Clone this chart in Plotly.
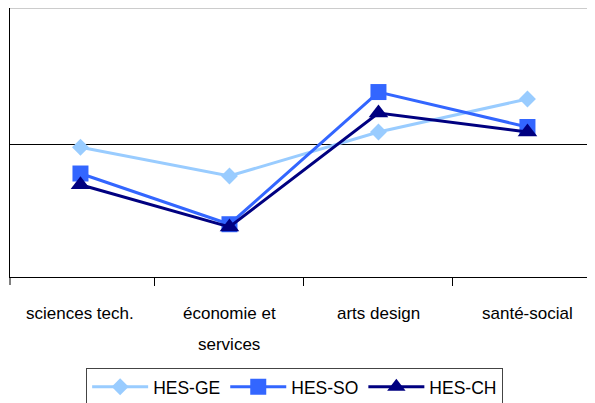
import plotly.graph_objects as go

categories = ["sciences tech.", "économie et\nservices", "arts design", "santé-social"]
hes_ge = [-0.024, -0.235, 0.088, 0.331]
hes_so = [-0.217, -0.59, 0.382, 0.125]
hes_ch = [-0.30, -0.61, 0.228, 0.088]

FONT = "Liberation Sans, Arial, sans-serif"

series = [
    ("HES-GE", hes_ge, "#99CCFF", "diamond", 13),
    ("HES-SO", hes_so, "#3366FF", "square", 16),
    ("HES-CH", hes_ch, "#000080", "triangle-up", 17),
]

x_idx = list(range(len(categories)))
boundaries = [i - 0.5 for i in range(len(categories) + 1)]

fig = go.Figure()
for name, vals, color, sym, size in series:
    fig.add_trace(go.Scatter(
        x=x_idx, y=vals, name=name, mode="lines+markers",
        line=dict(color=color, width=3),
        marker=dict(symbol=sym, size=size, color=color),
    ))

# category labels (each line placed separately to reproduce the wide line spacing)
for i, cat in enumerate(categories):
    for j, line in enumerate(cat.split("\n")):
        fig.add_annotation(
            x=i, xref="x", y=0, yref="paper", text=line, showarrow=False,
            yanchor="middle", yshift=-36 - 31 * j,
            font=dict(family=FONT, size=17, color="#000000"),
        )

# light top border of the plot area
fig.add_shape(type="line", xref="paper", yref="paper", x0=0, x1=1, y0=1, y1=1,
              line=dict(color="#999999", width=1))
# left end tick below the category axis
fig.add_shape(type="line", xref="paper", yref="paper", x0=0, x1=0, y0=0, y1=-8 / 269,
              line=dict(color="#000000", width=1))

fig.update_layout(
    width=595, height=403,
    margin=dict(l=2, r=0, t=0, b=134),
    paper_bgcolor="white", plot_bgcolor="white",
    font=dict(family=FONT, size=17, color="#000000"),
    showlegend=True,
    legend=dict(
        orientation="h", x=0.48, xanchor="center", y=-0.338, yanchor="top",
        bordercolor="#444444", borderwidth=1, itemwidth=56,
        font=dict(family=FONT, size=17.5, color="#000000"),
        tracegroupgap=0, itemclick=False,
    ),
    xaxis=dict(
        range=[-0.473, 3.507], showticklabels=False, tickmode="array",
        tickvals=boundaries, ticks="outside", ticklen=8,
        tickcolor="#000000", showline=True, linecolor="#000000", linewidth=1,
        showgrid=False, zeroline=False, fixedrange=True,
    ),
    yaxis=dict(
        range=[-0.978, 1], showticklabels=False, ticks="", showgrid=False,
        showline=True, linecolor="#000000", linewidth=1,
        zeroline=True, zerolinecolor="#000000", zerolinewidth=1,
    ),
)

fig.write_html("out.html")
